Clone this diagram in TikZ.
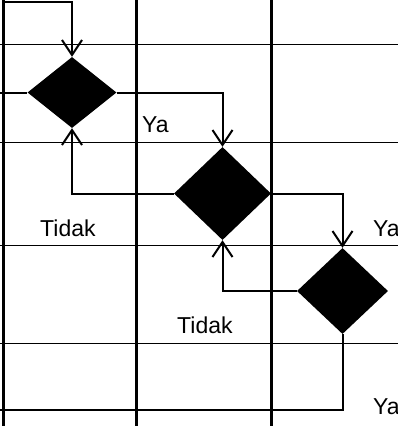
\documentclass[tikz,border=0pt]{standalone}
\usepackage{fontspec}
\setmainfont{Liberation Sans}
\usetikzlibrary{shapes.geometric,arrows.meta}
\begin{document}
\begin{tikzpicture}[x=1pt,y=-1pt,
    decision/.style={diamond,fill=black,inner sep=0pt},
    flow/.style={line width=2pt},
    arrowflow/.style={flow,-{Straight Barb[length=15pt,width=20pt]}},
    lane/.style={line width=3pt},
    grid/.style={line width=1pt},
    label/.style={inner sep=0pt,anchor=base west,font=\fontsize{23}{27}\selectfont}]
        \useasboundingbox (0,0) rectangle (398,426);

        % swimlanes
        \foreach \y in {44,142,245,343}
            \draw[grid] (0,\y) -- (398,\y);
        \foreach \x in {3,136,271}
            \draw[lane] (\x,0) -- (\x,426);

        % decisions
        \node[decision,minimum width=89pt,minimum height=71pt] (D1) at (72,92.5) {};
        \node[decision,minimum width=97pt,minimum height=93pt] (D2) at (222.5,193.5) {};
        \node[decision,minimum width=91pt,minimum height=86pt] (D3) at (342.5,291) {};

        \coordinate (S) at (3,2);
        \coordinate (I) at (0,92.5);
        \coordinate (E) at (0,410);

        \draw[arrowflow] (S) -| (D1.north);
        \draw[flow] (I) -- (D1.west);
        \draw[arrowflow] (D1.east) -| (D2.north);
        \draw[arrowflow] (D2.west) -| (D1.south);
        \draw[arrowflow] (D2.east) -| (D3.north);
        \draw[arrowflow] (D3.west) -| (D2.south);
        \draw[flow] (D3.south) |- (E);

        \node[label] (ya1) at (142,132) {Ya};
        \node[label] (tidak1) at (40,236) {Tidak};
        \node[label] (ya2) at (373,236) {Ya};
        \node[label] (tidak2) at (177,333) {Tidak};
        \node[label] (ya3) at (373,414) {Ya};
    \end{tikzpicture}
\end{document}
